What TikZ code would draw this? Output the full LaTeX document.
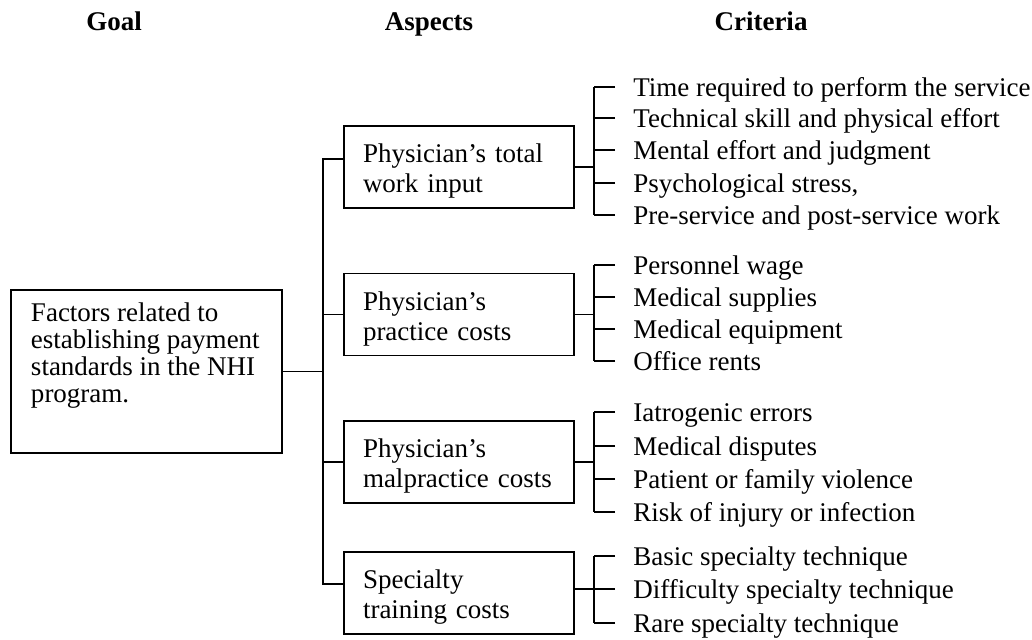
\documentclass[tikz,border=0pt]{standalone}
\usepackage{fontspec}
\setmainfont{Liberation Serif}
\usepackage{tikz}
\usetikzlibrary{positioning}

\begin{document}
\begin{tikzpicture}[
  x=0.5pt, y=-0.5pt,
  font=\fontsize{13.5}{15}\selectfont,
  wire/.style={draw=black, line width=0.75pt},
  hdr/.style={font=\fontsize{13.5}{15}\selectfont\bfseries, anchor=base},
  goalbox/.style={draw, line width=0.75pt, inner xsep=10pt, inner ysep=6.5pt, minimum width=135.5pt, minimum height=81.5pt},
  asp/.style={draw, line width=0.75pt, align=left, text width=96pt, inner xsep=9.5pt, minimum width=115pt, minimum height=41pt,
    execute at begin node={\rule{0pt}{13.5pt}}},
  crit/.style={anchor=west, inner sep=0pt, text height=9pt, text depth=0pt}
]
\useasboundingbox (0,0) rectangle (1032,639);

% column heads
\node[hdr] (goalhd) at (114,30) {Goal};
\node[hdr] (asphd) at (429,30) {Aspects};
\node[hdr] (crithd) at (761,30) {Criteria};

% goal
\node[goalbox] (goal) at (146.5,371.5)
  {\parbox[c][68.5pt][t]{115.5pt}{\fontsize{13.5}{13.5}\selectfont\raggedright
   Factors related to\\ establishing payment\\ standards in the NHI\\ program.}};

% aspects
\node[asp] (work) at (459,167) {Physician's total\\work input};
\node[asp] (practice) at (459,314.5) {Physician's\\practice costs};
\node[asp] (malpractice) at (459,462) {Physician's\\malpractice costs};
\node[asp] (training) at (459,593) {Specialty\\training costs};

% criteria
\node[crit] (c11) at (633,87) {Time required to perform the service};
\node[crit] (c12) at (633,118) {Technical skill and physical effort};
\node[crit] (c13) at (633,150) {Mental effort and judgment};
\node[crit] (c14) at (633,183) {Psychological stress,};
\node[crit] (c15) at (633,215) {Pre-service and post-service work};

\node[crit] (c21) at (633,265) {Personnel wage};
\node[crit] (c22) at (633,297) {Medical supplies};
\node[crit] (c23) at (633,329) {Medical equipment};
\node[crit] (c24) at (633,361) {Office rents};

\node[crit] (c31) at (633,412) {Iatrogenic errors};
\node[crit] (c32) at (633,446) {Medical disputes};
\node[crit] (c33) at (633,479) {Patient or family violence};
\node[crit] (c34) at (633,512) {Risk of injury or infection};

\node[crit] (c41) at (633,556) {Basic specialty technique};
\node[crit] (c42) at (633,589) {Difficulty specialty technique};
\node[crit] (c43) at (633,623) {Rare specialty technique};

% goal -> aspects
\coordinate (spinetop) at (323,159);
\coordinate (spinebot) at (323,584);
\draw[wire] (work.west |- spinetop) -- (spinetop) -- (spinebot) -- (training.west |- spinebot);
\draw[wire] (goal.east) -- (goal.east -| spinetop);
\draw[wire] (practice.west) -- (practice.west -| spinetop);
\draw[wire] (malpractice.west) -- (malpractice.west -| spinetop);

% aspects -> criteria
\foreach \c in {c11,c12,c13,c14,c15,c21,c22,c23,c24,c31,c32,c33,c34,c41,c42,c43}
  \draw[wire] ([xshift=-9pt]\c.west) -- ([xshift=-19.5pt]\c.west);
\draw[wire] ([xshift=-19.5pt]c11.west) -- ([xshift=-19.5pt]c15.west);
\draw[wire] ([xshift=-19.5pt]c21.west) -- ([xshift=-19.5pt]c24.west);
\draw[wire] ([xshift=-19.5pt]c31.west) -- ([xshift=-19.5pt]c34.west);
\draw[wire] ([xshift=-19.5pt]c41.west) -- ([xshift=-19.5pt]c43.west);
\draw[wire] (work.east) -- ++(20,0);
\draw[wire] (practice.east) -- ++(20,0);
\draw[wire] (malpractice.east) -- ++(20,0);
\draw[wire] (training.east |- c42.west) -- ++(20,0);
\end{tikzpicture}
\end{document}
